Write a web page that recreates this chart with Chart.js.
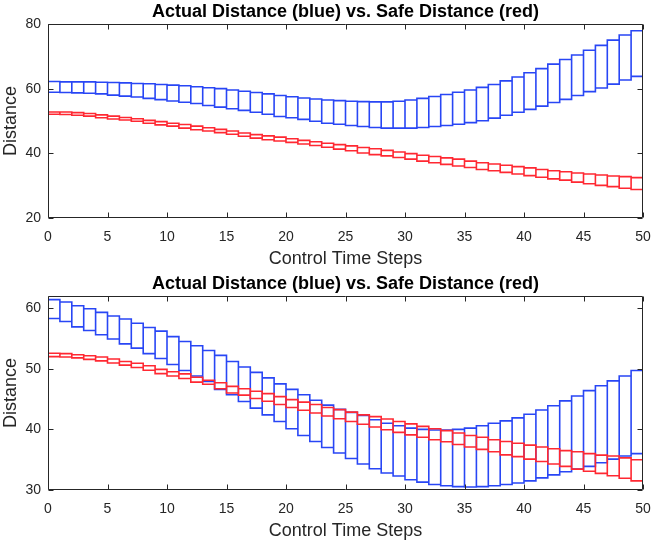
<!DOCTYPE html>
<html lang="en">
<head>
    <meta charset="UTF-8">
    <title>Actual Distance vs. Safe Distance</title>
    <script src="https://cdn.jsdelivr.net/npm/chart.js"></script>
    <style>
        body {
            margin: 0;
            padding: 0;
            background-color: white;
        }

        .plot {
            position: absolute;
            left: 0;
            width: 652px;
            height: 272px;
        }
    </style>
</head>
<body>

    <div class="plot" style="top: 0;"><canvas id="topPlot"></canvas></div>
    <div class="plot" style="top: 272px;"><canvas id="bottomPlot"></canvas></div>

    <script>
        // control time steps (box edges)
        var steps = [0, 1, 2, 3, 4, 5, 6, 7, 8, 9, 10, 11, 12, 13, 14, 15, 16, 17, 18, 19, 20,
            21, 22, 23, 24, 25, 26, 27, 28, 29, 30, 31, 32, 33, 34, 35, 36, 37, 38, 39, 40,
            41, 42, 43, 44, 45, 46, 47, 48, 49, 50];
        var xTicks = [0, 5, 10, 15, 20, 25, 30, 35, 40, 45, 50];

        // top plot
        var topBlueHi = [62.2, 62.1, 62.1, 62.1, 62.0, 61.9, 61.8, 61.6, 61.5, 61.3,
            61.1, 60.9, 60.6, 60.3, 60.0, 59.6, 59.2, 58.8, 58.4, 57.9,
            57.5, 57.1, 56.8, 56.5, 56.3, 56.1, 56.0, 55.9, 55.9, 56.1,
            56.5, 57.0, 57.6, 58.2, 58.9, 59.6, 60.4, 61.3, 62.4, 63.6,
            64.9, 66.2, 67.6, 69.0, 70.4, 71.9, 73.4, 75.0, 76.6, 77.9];
        var topBlueLo = [58.9, 58.8, 58.7, 58.6, 58.4, 58.0, 57.7, 57.4, 57.0, 56.6,
            56.2, 55.8, 55.4, 54.8, 54.3, 53.8, 53.3, 52.7, 52.1, 51.4,
            51.0, 50.5, 49.9, 49.3, 49.0, 48.6, 48.3, 48.0, 47.8, 47.8,
            47.8, 48.0, 48.3, 48.6, 49.0, 49.5, 50.1, 50.9, 51.8, 52.7,
            53.6, 54.6, 55.7, 56.7, 57.9, 59.1, 60.2, 61.4, 62.7, 63.8];
        var topRedHi = [52.8, 52.8, 52.6, 52.3, 51.9, 51.5, 51.1, 50.7, 50.2, 49.8,
            49.3, 48.9, 48.4, 47.9, 47.4, 46.9, 46.3, 45.8, 45.4, 45.0,
            44.5, 44.0, 43.6, 43.1, 42.7, 42.3, 41.8, 41.4, 40.9, 40.4,
            39.9, 39.4, 39.0, 38.6, 38.2, 37.6, 37.1, 36.7, 36.3, 35.9,
            35.5, 35.0, 34.6, 34.3, 33.9, 33.6, 33.3, 33.0, 32.8, 32.5];
        var topRedLo = [52.1, 52.0, 51.8, 51.5, 51.0, 50.6, 50.3, 49.9, 49.3, 48.8,
            48.4, 47.8, 47.3, 46.9, 46.4, 45.9, 45.3, 44.7, 44.2, 43.8,
            43.4, 42.9, 42.4, 41.9, 41.3, 40.8, 40.1, 39.6, 39.2, 38.7,
            38.2, 37.6, 37.1, 36.6, 36.1, 35.6, 35.0, 34.6, 34.1, 33.6,
            33.1, 32.6, 32.1, 31.7, 31.1, 30.6, 30.1, 29.7, 29.2, 28.8];
        var topYTicks = [20, 40, 60, 80];

        // bottom plot
        var botBlueHi = [61.4, 61.0, 60.4, 59.9, 59.3, 58.7, 58.2, 57.5, 56.8, 56.2,
            55.3, 54.5, 53.8, 53.0, 52.2, 51.2, 50.3, 49.4, 48.5, 47.5,
            46.6, 45.7, 44.8, 44.0, 43.3, 42.8, 42.3, 41.6, 41.0, 40.6,
            40.2, 40.0, 39.9, 39.9, 40.0, 40.2, 40.6, 41.0, 41.4, 41.9,
            42.5, 43.2, 43.9, 44.7, 45.5, 46.4, 47.2, 48.0, 48.8, 49.7];
        var botBlueLo = [58.3, 57.8, 56.9, 56.3, 55.6, 54.9, 54.1, 53.4, 52.5, 51.7,
            50.7, 49.7, 48.8, 47.9, 46.6, 45.7, 44.6, 43.5, 42.4, 41.3,
            40.1, 39.0, 38.0, 37.0, 36.1, 35.2, 34.3, 33.5, 32.8, 32.3,
            31.7, 31.3, 30.9, 30.7, 30.55, 30.5, 30.55, 30.7, 30.9, 31.15,
            31.5, 32.0, 32.5, 33.0, 33.45, 33.9, 34.5, 35.1, 35.6, 36.0];
        var botRedHi = [52.55, 52.5, 52.3, 52.15, 51.95, 51.6, 51.2, 50.9, 50.5, 49.9,
            49.5, 49.15, 48.6, 48.1, 47.7, 47.1, 46.7, 46.3, 45.9, 45.4,
            44.9, 44.5, 44.1, 43.6, 43.25, 42.85, 42.4, 42.1, 41.7, 41.3,
            40.9, 40.5, 40.1, 39.8, 39.4, 39.0, 38.7, 38.3, 38.0, 37.7,
            37.4, 37.1, 36.8, 36.5, 36.3, 36.0, 35.75, 35.6, 35.3, 35.0];
        var botRedLo = [52.0, 51.95, 51.8, 51.55, 51.3, 50.95, 50.6, 50.2, 49.75, 49.2,
            48.8, 48.4, 47.8, 47.45, 46.7, 46.0, 45.65, 45.1, 44.65, 44.1,
            43.6, 43.15, 42.7, 42.2, 41.75, 41.3, 40.85, 40.4, 39.95, 39.5,
            39.1, 38.7, 38.3, 37.95, 37.5, 37.1, 36.7, 36.3, 35.8, 35.5,
            35.1, 34.7, 34.3, 33.9, 33.45, 33.1, 32.75, 32.35, 31.95, 31.5];
        var botYTicks = [30, 40, 50, 60];

        var titleText = 'Actual Distance (blue) vs. Safe Distance (red)';
        var fontFamily = "'Liberation Sans', Arial, Helvetica, sans-serif";
        var axisColor = '#262626';

        // one closed rectangle per time step, broken apart by null points
        function boxPoints(lo, hi) {
            var pts = [];
            for (var k = 0; k < lo.length; k++) {
                var x0 = steps[k], x1 = steps[k + 1];
                pts.push({x: x0, y: lo[k]}, {x: x0, y: hi[k]}, {x: x1, y: hi[k]},
                         {x: x1, y: lo[k]}, {x: x0, y: lo[k]}, {x: x1, y: null});
            }
            return pts;
        }

        // matlab style box with inward ticks on all four sides
        var boxAxes = {
            id: 'boxAxes',
            afterDraw: function (chart) {
                var ctx = chart.ctx, a = chart.chartArea;
                var xs = chart.scales.x, ys = chart.scales.y;
                var l = Math.round(a.left) + 0.5, r = Math.round(a.right) - 0.5;
                var t = Math.round(a.top) + 0.5, b = Math.round(a.bottom) - 0.5;
                var len = 5;
                ctx.save();
                ctx.strokeStyle = axisColor;
                ctx.lineWidth = 1;
                ctx.beginPath();
                ctx.rect(l, t, r - l, b - t);
                xs.ticks.forEach(function (tk) {
                    var px = Math.round(xs.getPixelForValue(tk.value)) + 0.5;
                    ctx.moveTo(px, b); ctx.lineTo(px, b - len);
                    ctx.moveTo(px, t); ctx.lineTo(px, t + len);
                });
                ys.ticks.forEach(function (tk) {
                    var py = Math.round(ys.getPixelForValue(tk.value)) + 0.5;
                    ctx.moveTo(l, py); ctx.lineTo(l + len, py);
                    ctx.moveTo(r, py); ctx.lineTo(r - len, py);
                });
                ctx.stroke();
                ctx.restore();
            }
        };

        function makeChart(id, blueLo, blueHi, redLo, redHi, yTicks, yMin, yMax) {
            var ctx = document.getElementById(id).getContext('2d');
            return new Chart(ctx, {
                type: 'line',
                data: {
                    datasets: [{
                        label: 'Safe Distance',
                        data: boxPoints(redLo, redHi),
                        borderColor: 'rgb(255, 40, 50)',
                        borderWidth: 1.6,
                        order: 0
                    }, {
                        label: 'Actual Distance',
                        data: boxPoints(blueLo, blueHi),
                        borderColor: 'rgb(40, 70, 245)',
                        borderWidth: 1.6,
                        order: 1
                    }]
                },
                options: {
                    responsive: true,
                    maintainAspectRatio: false,
                    animation: false,
                    events: [],
                    elements: {
                        point: { radius: 0 },
                        line: { tension: 0, borderJoinStyle: 'miter', borderCapStyle: 'square', fill: false }
                    },
                    layout: {
                        padding: { left: 0, right: 9, top: 0, bottom: 0 }
                    },
                    plugins: {
                        legend: { display: false },
                        tooltip: { enabled: false },
                        title: {
                            display: true,
                            fullSize: false,
                            text: titleText,
                            color: '#000',
                            font: { family: fontFamily, size: 18, weight: 'bold', lineHeight: 1.2 },
                            padding: { top: 1, bottom: 1.4 }
                        }
                    },
                    scales: {
                        x: {
                            type: 'linear',
                            min: 0,
                            max: 50,
                            grid: { display: false, drawTicks: false },
                            border: { display: false },
                            afterBuildTicks: function (scale) {
                                scale.ticks = xTicks.map(function (v) { return {value: v}; });
                            },
                            afterFit: function (scale) {
                                scale.height = 54;
                                scale.paddingLeft = 0;
                                scale.paddingRight = 0;
                            },
                            ticks: {
                                color: axisColor,
                                padding: 11,
                                maxRotation: 0,
                                font: { family: fontFamily, size: 14 }
                            },
                            title: {
                                display: true,
                                text: 'Control Time Steps',
                                color: axisColor,
                                font: { family: fontFamily, size: 18, lineHeight: 1.2 },
                                padding: { top: 0, bottom: 2 }
                            }
                        },
                        y: {
                            type: 'linear',
                            min: yMin,
                            max: yMax,
                            grid: { display: false, drawTicks: false },
                            border: { display: false },
                            afterBuildTicks: function (scale) {
                                scale.ticks = yTicks.map(function (v) { return {value: v}; });
                            },
                            afterFit: function (scale) {
                                scale.width = 48;
                                scale.paddingTop = 0;
                                scale.paddingBottom = 0;
                            },
                            ticks: {
                                color: axisColor,
                                padding: 7,
                                font: { family: fontFamily, size: 14 }
                            },
                            title: {
                                display: true,
                                text: 'Distance',
                                color: axisColor,
                                font: { family: fontFamily, size: 18, lineHeight: 1.2 },
                                padding: { top: 0, bottom: 0 }
                            }
                        }
                    }
                },
                plugins: [boxAxes]
            });
        }

        var topChart = makeChart('topPlot', topBlueLo, topBlueHi, topRedLo, topRedHi, topYTicks, 20, 80);
        var bottomChart = makeChart('bottomPlot', botBlueLo, botBlueHi, botRedLo, botRedHi, botYTicks, 30, 62);
    </script>

</body>
</html>
